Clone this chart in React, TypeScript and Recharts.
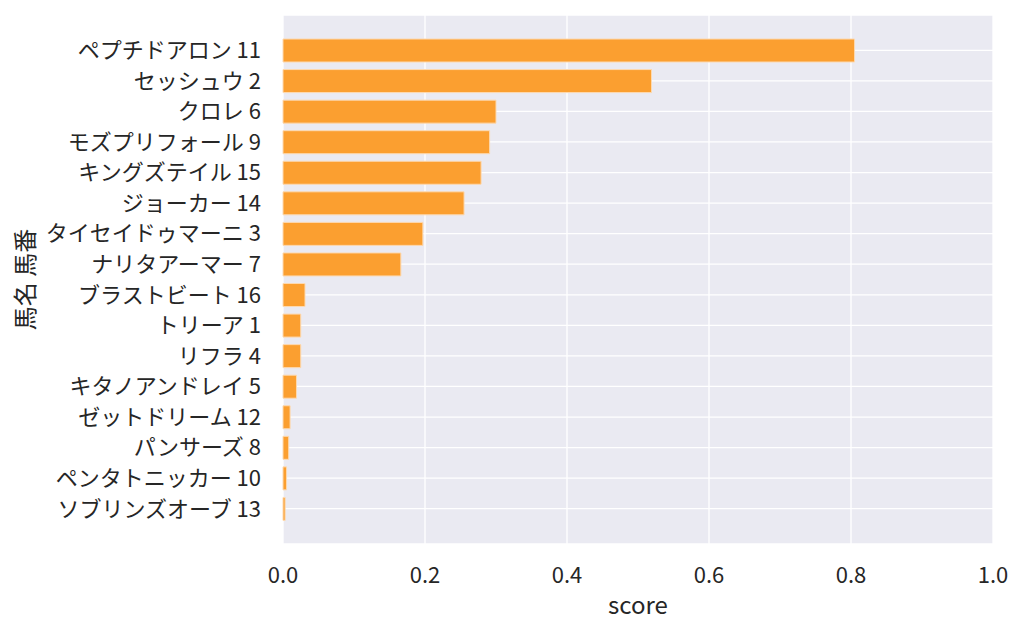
import { BarChart, Bar, XAxis, YAxis, CartesianGrid } from 'recharts';

const HORSES = [
  'ペプチドアロン 11',
  'セッシュウ 2',
  'クロレ 6',
  'モズプリフォール 9',
  'キングズテイル 15',
  'ジョーカー 14',
  'タイセイドゥマーニ 3',
  'ナリタアーマー 7',
  'ブラストビート 16',
  'トリーア 1',
  'リフラ 4',
  'キタノアンドレイ 5',
  'ゼットドリーム 12',
  'パンサーズ 8',
  'ペンタトニッカー 10',
  'ソブリンズオーブ 13',
];

const SCORES = [
  0.805, 0.519, 0.3, 0.291, 0.279, 0.255, 0.197, 0.166,
  0.031, 0.025, 0.025, 0.019, 0.01, 0.008, 0.005, 0.003,
];

const X_TICKS = [0, 0.2, 0.4, 0.6, 0.8, 1.0];

const data = HORSES.map((name, i) => ({ name, score: SCORES[i] }));

const FONT = '"Noto Sans CJK JP", "Noto Sans", sans-serif';
const TEXT = '#262626';

export default function App() {
  return (
    <div style={{ position: 'absolute', left: 0, top: 0, width: 1024, height: 634, background: '#fff', fontFamily: FONT }}>
      <BarChart
        width={1024}
        height={634}
        data={data}
        layout="vertical"
        margin={{ top: 15, right: 31, bottom: 0, left: 0 }}
      >
        <CartesianGrid fill="#EAEAF2" stroke="#fff" strokeWidth={1.3} />
        <XAxis
          type="number"
          domain={[0, 1]}
          ticks={X_TICKS}
          tickFormatter={(v) => Number(v).toFixed(1)}
          axisLine={false}
          tickLine={false}
          tickSize={0}
          tickMargin={23}
          height={90}
          tick={{ fontSize: 22, fill: TEXT, fontFamily: FONT }}
          label={{ value: 'score', position: 'insideBottom', offset: 20, fontSize: 24, fill: TEXT, fontFamily: FONT }}
        />
        <YAxis
          type="category"
          dataKey="name"
          width={283}
          interval={0}
          axisLine={false}
          tickLine={false}
          tickSize={0}
          tickMargin={22}
          padding={{ top: 20, bottom: 20 }}
          tick={{ fontSize: 22, fill: TEXT, fontFamily: FONT }}
          label={{
            value: '馬名 馬番',
            angle: -90,
            position: 'insideLeft',
            offset: 25,
            fontSize: 24,
            fill: TEXT,
            fontFamily: FONT,
            style: { textAnchor: 'middle' },
          }}
        />
        <Bar
          dataKey="score"
          fill="#FB9F30"
          stroke="#FDD9B0"
          strokeWidth={1}
          barSize={23}
          isAnimationActive={false}
        />
      </BarChart>
    </div>
  );
}
